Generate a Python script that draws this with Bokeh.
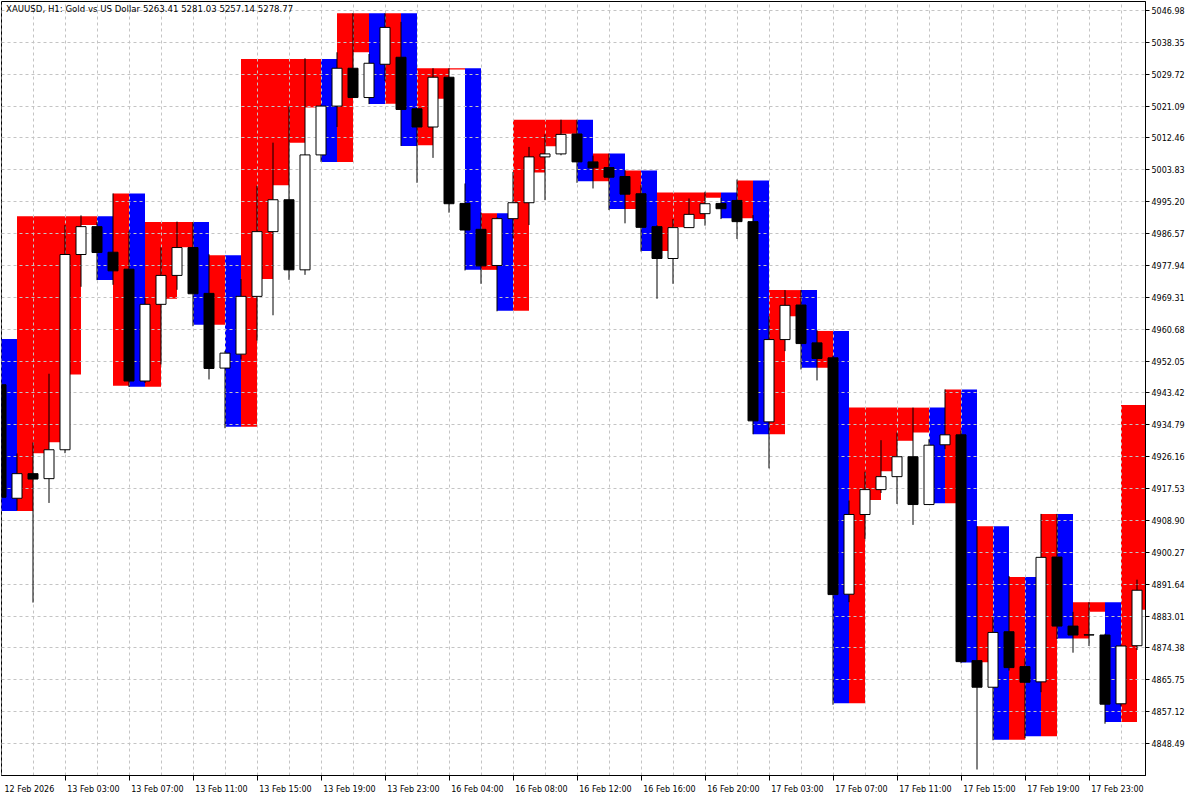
from bokeh.plotting import figure
from bokeh.models import Range1d, FixedTicker, ColumnDataSource, Label, LinearAxis
from bokeh.embed import file_html
from bokeh.resources import INLINE

title_text = "XAUUSD, H1:  Gold vs US Dollar  5263.41 5281.03 5257.14 5278.77"

opens = [4945.66, 4914.92, 4921.58, 4920.23, 4928.05, 4980.91, 4988.46, 4981.53, 4976.94, 4946.66,
         4967.42, 4975.25, 4982.80, 4970.39, 4950.16, 4953.94, 4969.58, 4987.11, 4995.74, 4976.76,
         5007.88, 5021.09, 5031.34, 5023.41, 5032.42, 5034.31, 5020.36, 5015.43, 5028.91, 4994.74,
         4987.73, 4977.94, 4990.62, 4994.93, 5007.34, 5008.15, 5013.54, 5005.99, 5004.45, 5002.03,
         4997.36, 4988.46, 4979.83, 4988.19, 4991.97, 4994.74, 4995.55, 4989.81, 4935.60, 4957.88,
         4967.24, 4956.99, 4952.94, 4888.94, 4910.52, 4917.26, 4920.77, 4926.16, 4913.22, 4929.40,
         4932.09, 4870.96, 4863.76, 4878.78, 4869.34, 4865.21, 4899.00, 4880.31, 4877.89, 4877.89,
         4859.28, 4875.00]
highs = [4946.74, 4927.05, 4930.02, 4948.63, 4988.89, 4991.51, 4989.70, 4997.44, 4987.19, 4969.12,
         4982.88, 4989.81, 4989.70, 4980.99, 4954.83, 4974.25, 4999.52, 5011.20, 5020.98, 5034.04,
         5021.44, 5035.66, 5046.25, 5035.20, 5046.25, 5043.91, 5020.63, 5031.34, 5031.34, 5000.14,
         4992.32, 4990.97, 5003.29, 5010.04, 5013.43, 5017.40, 5017.40, 5007.69, 5008.23, 5003.72,
         4999.68, 4988.81, 4990.51, 4996.09, 4997.90, 4996.28, 5001.22, 4991.59, 4964.19, 4971.28,
         4971.28, 4960.41, 4953.48, 4914.30, 4922.12, 4930.64, 4932.72, 4939.46, 4930.91, 4944.39,
         4933.25, 4907.36, 4882.82, 4893.88, 4871.58, 4910.68, 4910.68, 4884.17, 4886.79, 4878.24,
         4875.27, 4892.88]
lows = [4913.84, 4911.68, 4886.68, 4913.65, 4927.13, 4972.17, 4973.98, 4972.71, 4945.04, 4946.12,
        4951.14, 4971.36, 4961.49, 4947.09, 4933.88, 4952.48, 4957.61, 4964.46, 4974.06, 4975.41,
        5005.99, 5015.43, 5023.33, 5021.63, 5027.92, 5010.31, 5000.33, 5007.07, 4992.24, 4976.59,
        4972.98, 4965.54, 4985.30, 4988.89, 4995.63, 5007.77, 5000.33, 4998.79, 4992.94, 4989.35,
        4981.72, 4968.93, 4972.98, 4988.14, 4988.73, 4990.51, 4985.12, 4932.26, 4923.01, 4954.75,
        4949.79, 4946.82, 4859.01, 4886.79, 4903.94, 4916.34, 4913.38, 4907.71, 4913.16, 4928.21,
        4870.23, 4841.48, 4849.38, 4868.26, 4850.00, 4862.41, 4876.81, 4873.11, 4874.92, 4853.88,
        4858.55, 4873.84]
closes = [4915.19, 4921.58, 4920.12, 4928.05, 4980.91, 4988.46, 4981.45, 4976.49, 4946.66, 4967.42,
          4975.25, 4982.80, 4970.28, 4950.06, 4954.21, 4969.58, 4987.11, 4995.74, 4976.76, 5007.88,
          5021.09, 5031.34, 5023.41, 5032.69, 5042.40, 5020.18, 5015.43, 5028.91, 4994.66, 4987.54,
          4977.83, 4990.62, 4994.93, 5007.34, 5008.15, 5013.43, 5005.99, 5004.37, 5001.84, 4997.25,
          4988.27, 4979.83, 4988.19, 4991.78, 4994.66, 4993.31, 4989.81, 4935.87, 4957.88, 4967.15,
          4956.80, 4952.75, 4888.84, 4910.52, 4917.26, 4920.77, 4926.16, 4913.22, 4929.29, 4932.09,
          4870.69, 4863.76, 4878.59, 4869.07, 4865.10, 4898.92, 4880.31, 4877.89, 4877.97, 4859.17,
          4874.92, 4890.02]

band_top = [4958.07, 4991.24, 4991.24, 4991.24, 4991.24, 4991.24, 4991.24, 4997.44, 4997.44, 4989.70,
            4989.70, 4989.70, 4989.70, 4980.72, 4980.72, 5033.85, 5033.85, 5033.85, 5033.85, 5033.85,
            5033.85, 5046.25, 5046.25, 5046.25, 5046.25, 5046.25, 5031.34, 5031.34, 5031.34, 5031.34,
            4992.05, 4992.05, 5017.40, 5017.40, 5017.40, 5017.40, 5017.40, 5008.23, 5008.23, 5003.64,
            5003.64, 4997.71, 4997.71, 4997.71, 4997.71, 4997.71, 5000.95, 5000.95, 4971.28, 4971.28,
            4971.28, 4960.22, 4960.22, 4939.46, 4939.46, 4939.46, 4939.46, 4939.46, 4939.46, 4944.39,
            4944.39, 4907.36, 4907.36, 4893.61, 4893.61, 4910.68, 4910.68, 4886.79, 4886.79, 4886.79,
            4940.19, 4940.19]
band_bottom = [4911.49, 4911.49, 4927.13, 4930.10, 4948.44, 4988.89, 4973.98, 4945.39, 4945.12, 4945.12,
               4968.93, 4982.88, 4961.92, 4961.92, 4934.25, 4934.25, 4974.25, 4999.68, 5011.20, 5020.71,
               5005.99, 5005.99, 5035.66, 5021.63, 5021.71, 5010.31, 5010.47, 5023.06, 5031.02, 4976.76,
               4976.76, 4965.70, 4965.70, 5003.10, 5010.20, 5013.62, 5000.76, 5000.76, 4993.21, 4993.21,
               4981.88, 4981.88, 4988.27, 4990.51, 4996.28, 4990.70, 4990.70, 4932.26, 4932.26, 4964.19,
               4950.25, 4950.25, 4859.44, 4859.44, 4914.46, 4922.20, 4930.48, 4932.72, 4913.57, 4913.57,
               4870.42, 4870.50, 4849.57, 4849.57, 4850.46, 4850.46, 4876.97, 4876.97, 4884.17, 4854.32,
               4854.32, 4884.71]
band_trend = ["down", "up", "up", "up", "up", "up", "down", "up", "down", "up",
              "up", "up", "down", "up", "down", "up", "up", "up", "up", "up",
              "down", "up", "up", "down", "up", "down", "up", "up", "up", "down",
              "up", "down", "up", "up", "up", "up", "down", "up", "down", "up",
              "down", "up", "up", "up", "up", "down", "up", "down", "up", "up",
              "down", "up", "down", "up", "up", "up", "up", "up", "down", "up",
              "down", "up", "down", "up", "down", "up", "down", "up", "up", "down",
              "up", "up"]

price_tick_labels = ["4848.49", "4857.12", "4865.75", "4874.38", "4883.01", "4891.64",
                     "4900.27", "4908.90", "4917.53", "4926.16", "4934.79", "4943.42",
                     "4952.05", "4960.68", "4969.31", "4977.94", "4986.57", "4995.20",
                     "5003.83", "5012.46", "5021.09", "5029.72", "5038.35", "5046.98"]
time_labels = ["12 Feb 2026", "13 Feb 03:00", "13 Feb 07:00", "13 Feb 11:00", "13 Feb 15:00",
               "13 Feb 19:00", "13 Feb 23:00", "16 Feb 04:00", "16 Feb 08:00", "16 Feb 12:00",
               "16 Feb 16:00", "16 Feb 20:00", "17 Feb 03:00", "17 Feb 07:00", "17 Feb 11:00",
               "17 Feb 15:00", "17 Feb 19:00", "17 Feb 23:00"]
time_label_bars = [0, 4, 8, 12, 16, 20, 24, 28, 32, 36, 40, 44, 48, 52, 56, 60, 64, 68]

# ---------------------------------------------------------------------------
FONT = "DejaVu Sans"
FONT_PX = 8
n = len(opens)
xs = list(range(n))
BAR_PX = 16.0
FRAME_W, FRAME_H = 1144, 774
x0 = 0.03125
y_lo, y_hi = 4839.86, 5049.41

p = figure(frame_width=FRAME_W, frame_height=FRAME_H,
           x_range=Range1d(x0, x0 + FRAME_W / BAR_PX), y_range=Range1d(y_lo, y_hi),
           y_axis_location="right", x_axis_location=None,
           output_backend="svg", toolbar_location=None,
           min_border_left=1, min_border_top=1, min_border_bottom=4, min_border_right=4,
           background_fill_color="white", border_fill_color="white")
p.outline_line_color = "black"
p.outline_line_width = 1

# colored bands
band_src = ColumnDataSource(dict(
    left=xs, right=[i + 1 for i in xs], top=band_top, bottom=band_bottom,
    color=["#FF0000" if t == "up" else "#0000FF" for t in band_trend]))
p.quad(left="left", right="right", top="top", bottom="bottom", fill_color="color",
       line_color=None, source=band_src, level="image")

# grid
y_ticks = [float(s) for s in price_tick_labels]
p.xgrid.ticker = FixedTicker(ticks=list(range(0, n, 2)))
p.ygrid.ticker = FixedTicker(ticks=y_ticks)
for g in (p.xgrid, p.ygrid):
    g.grid_line_color = "#C4C4C4"
    g.grid_line_dash = "3 3"
    g.grid_line_width = 1

# candles
p.segment(x0=xs, y0=lows, x1=xs, y1=highs, line_color="black", line_width=1)
cs = ColumnDataSource(dict(
    x=xs, top=[max(o, c) for o, c in zip(opens, closes)],
    bottom=[min(o, c) for o, c in zip(opens, closes)],
    fill=["white" if c >= o else "black" for o, c in zip(opens, closes)]))
p.vbar(x="x", width=10 / BAR_PX, top="top", bottom="bottom", fill_color="fill",
       line_color="black", line_width=1, source=cs)

# right price axis
p.yaxis.ticker = FixedTicker(ticks=y_ticks)
p.yaxis.major_label_overrides = {t: s for t, s in zip(y_ticks, price_tick_labels)}
p.yaxis.major_tick_out = 4
p.yaxis.major_tick_in = 0
p.yaxis.minor_tick_line_color = None
p.yaxis.axis_line_color = "black"
p.yaxis.major_tick_line_color = "black"
p.yaxis.major_label_standoff = 2
p.yaxis.major_label_text_font = FONT
p.yaxis.major_label_text_font_size = f"{FONT_PX}px"
p.yaxis.major_label_text_color = "black"

# bottom time axis, part 1: tick marks at the bar positions (no visible labels)
tick_axis = LinearAxis(ticker=FixedTicker(ticks=time_label_bars),
                       major_label_overrides={b: " " for b in time_label_bars},
                       major_tick_out=5, major_tick_in=0,
                       minor_tick_line_color=None, axis_line_color="black",
                       major_tick_line_color="black", major_label_standoff=0,
                       major_label_text_font_size="1px")
p.add_layout(tick_axis, "below")

# part 2: the labels, drawn so that each text starts just right of its tick
half_label = (2 + 0.5 * 6.6 * FONT_PX) / BAR_PX   # label half-width + gap, in bars
label_pos = [b + half_label for b in time_label_bars]
label_axis = LinearAxis(ticker=FixedTicker(ticks=label_pos),
                        major_label_overrides={q: t for q, t in zip(label_pos, time_labels)},
                        major_tick_out=0, major_tick_in=0, major_tick_line_color=None,
                        minor_tick_line_color=None, axis_line_color=None,
                        major_label_standoff=0, major_label_text_font=FONT,
                        major_label_text_font_size=f"{FONT_PX}px",
                        major_label_text_color="black")
p.add_layout(label_axis, "below")

upp = (y_hi - y_lo) / FRAME_H
p.add_layout(Label(x=x0 + 4.5 / BAR_PX, y=y_hi - 7 * upp, text=title_text,
                   text_align="left", text_baseline="middle", text_font=FONT,
                   text_font_size="8.6px", text_color="black"))

open("out.html", "w").write(file_html(p, INLINE))
